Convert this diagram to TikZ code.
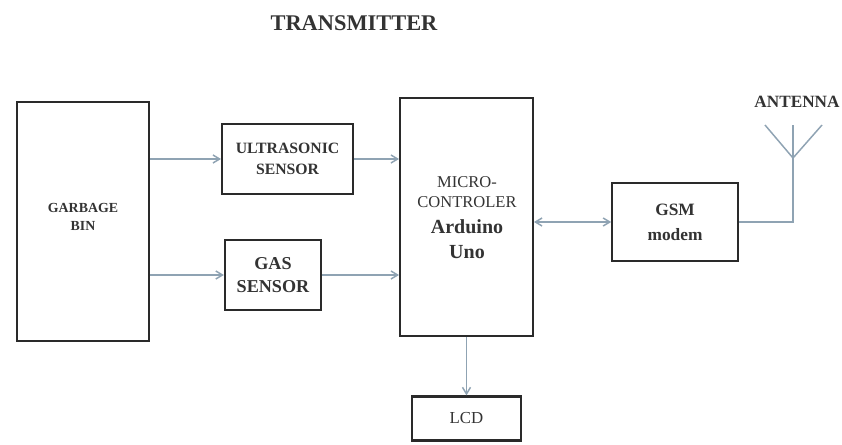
\documentclass[tikz,border=0pt]{standalone}
\usepackage{fontspec}
\setmainfont{Liberation Serif}
\usetikzlibrary{arrows.meta}
\definecolor{boxline}{HTML}{2A2A2A}
\definecolor{wire}{HTML}{8FA3B3}
\definecolor{txt}{HTML}{333333}
\begin{document}
\begin{tikzpicture}[x=0.75pt,y=-0.75pt,
  block/.style={draw=boxline,line width=1.7pt,fill=white,minimum width=#1,inner sep=0pt,align=center,text=txt},
  wirelink/.style={draw=wire,line width=1.1pt},
  arrowlink/.style={wirelink,-{Straight Barb[length=5pt,width=6pt]}},
  dualink/.style={wirelink,{Straight Barb[length=5pt,width=6pt]}-{Straight Barb[length=5pt,width=6pt]}}]
\useasboundingbox (0,0) rectangle (842,444);
\path[fill=white] (0,0) rectangle (842,444);
\node[font=\fontsize{16.8pt}{18pt}\selectfont\bfseries,text=txt] (title) at (354,23) {TRANSMITTER};
\node[block=99pt,minimum height=179pt] (bin) at (83,221.5) {};
\node[font=\fontsize{10.4pt}{14pt}\selectfont\bfseries,text=txt,align=center] (bintext) at (83,217) {GARBAGE\\BIN};
\node[block=98pt,minimum height=52.5pt,font=\fontsize{11.8pt}{15.7pt}\selectfont\bfseries] (us) at (287.5,159) {ULTRASONIC\\SENSOR};
\node[block=72pt,minimum height=52.5pt,font=\fontsize{13.6pt}{17pt}\selectfont\bfseries] (gas) at (273,275) {GAS\\SENSOR};
\node[block=99.5pt,minimum height=178.5pt] (mc) at (466.5,217) {};
\node[font=\fontsize{12.4pt}{15pt}\selectfont,text=txt,align=center] (mctext) at (467,192) {MICRO-\\CONTROLER};
\node[text=txt,align=center,font=\fontsize{15pt}{18.7pt}\selectfont\bfseries] (mcname) at (467,239) {Arduino\\Uno};
\node[block=94pt,minimum height=58pt,font=\fontsize{13pt}{18.7pt}\selectfont\bfseries] (gsm) at (675,222) {GSM\\modem};
\node[block=82pt,minimum height=33pt,font=\fontsize{12.6pt}{15pt}\selectfont] (lcd) at (466.5,418.5) {LCD};
\node[font=\fontsize{12.9pt}{14pt}\selectfont\bfseries,text=txt] (antlabel) at (797,102) {ANTENNA};
\coordinate (feed) at (793,158);
\coordinate (tipl) at (765,125);
\coordinate (tipm) at (793,125);
\coordinate (tipr) at (822,125);
\draw[arrowlink] (bin.east |- us.west) -- (us.west);
\draw[arrowlink] (bin.east |- gas.west) -- (gas.west);
\draw[arrowlink] (us.east) -- (us.east -| mc.west);
\draw[arrowlink] (gas.east) -- (gas.east -| mc.west);
\draw[dualink] (gsm.west -| mc.east) -- (gsm.west);
\draw[arrowlink] (mc.south) -- (lcd.north);
\draw[wirelink] (gsm.east) -| (tipm);
\draw[wirelink] (tipl) -- (feed) -- (tipr);
\end{tikzpicture}
\end{document}
